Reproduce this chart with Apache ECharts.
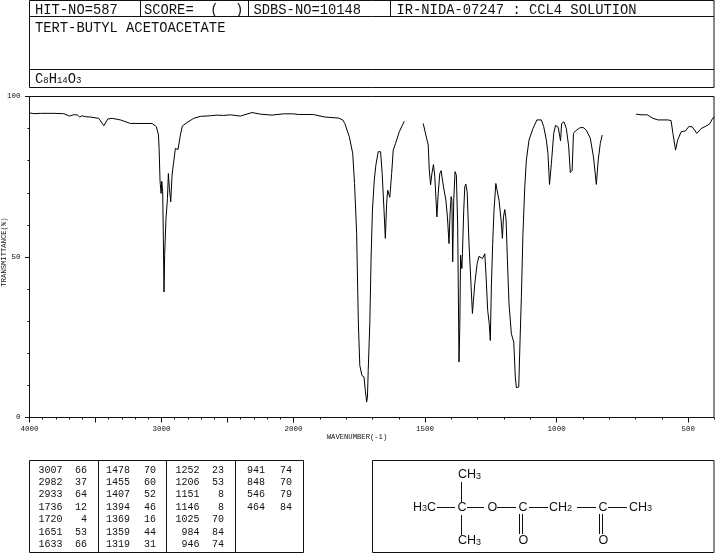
<!DOCTYPE html>
<html>
<head>
<meta charset="utf-8">
<style>html,body{margin:0;padding:0;background:#fff}#chart{width:715px;height:553px}</style>
<script src="https://cdn.jsdelivr.net/npm/echarts@6/dist/echarts.min.js"></script>
</head>
<body>
<div id="chart"></div>
<script>
// spectrum, cut in the places where the trace stops (CCl4 solvent windows)
var wnA = [4000,3992,3967,3917,3816,3740,3697,3669,3639,3619,3601,3576,3538,3475,3437,3407,3374,3311,3235,3071,3039,3023,3018,3011,3003,2998,2991,2986,2981,2976,2966,2955,2948,2940,2930,2920,2910,2895,2887,2875,2857,2842,2806,2756,2706,2630,2579,2529,2478,2403,2314,2251,2163,2075,2000];
var tA = [94.9,95,94.65,94.75,94.75,94.65,93.9,94.3,94.3,93.6,94,93.7,93.6,93.2,90.9,93,93.2,92.7,91.6,91.6,90.6,88,83.8,73.6,69.8,73.6,70.3,55.8,39.1,50.8,62,68.2,76,71.3,67.2,75.5,78.9,83.8,84.1,83.5,88,90.8,91.9,93.2,93.8,94,94.2,94.1,94.3,93.9,95,94.5,94.2,94.6,94.6];

var wnB = [2000,1982,1925,1881,1830,1813,1805,1788,1775,1768,1760,1754,1753,1748,1740,1732,1727,1722,1719,1716,1710,1705,1700,1693,1687,1678,1669,1663,1656,1651,1646,1642,1634,1627,1621,1612,1598,1579];
var tB = [94.6,94.4,94.4,93.6,93.3,92.7,91.6,87.5,82.3,72.9,57.3,31.3,28.2,16.2,13.1,12.6,8.4,4.8,6.4,14.7,29.2,50,64.6,74,78.6,82.8,82.8,76,64.6,55.8,66.7,70.8,68.6,76,83.3,85.4,89,92.3];

var wnC = [1507,1497,1488,1484,1479,1474,1468,1463,1459,1455,1450,1444,1439,1431,1421,1415,1409,1405,1401,1398,1395,1391,1386,1381,1376,1371,1368,1365,1360,1358,1353,1349,1345,1340,1333,1325,1320,1316,1311,1302,1295,1282,1273,1268,1262,1256,1252,1248,1243,1238,1231,1226,1219,1211,1206,1202,1197,1192,1187,1181,1172,1163,1157,1153,1144,1139,1134,1128,1121,1115,1105,1090,1075,1058,1049,1039,1033,1027,1020,1011,1004,994,985,981,972,963,954,948,941,936,928,913,900,887,872,860,849,842,834,827];
var tC = [91.6,88,84.9,77.1,72.5,76,78.8,75,68.8,62.5,69.8,76,76.9,72.4,67.7,62.5,54.2,63.6,68.8,67.7,48.5,67.7,76.6,75.5,59.4,17.3,28,50.6,46.4,51,64.6,71.9,72.7,70.3,54.2,40.7,32.4,36.5,41.7,48,50.2,49.5,51,43.8,33.4,29.2,24,40.7,54.2,64.6,72.9,73.1,67.7,61.5,55.8,62.5,64.8,61.5,49,35.5,26.1,23.5,12.6,9.3,9.5,24,37.6,57.3,71.9,80.2,86.4,90,92.7,92.7,90.6,86.4,82.3,72.6,79.1,88.5,91,90.4,86.2,91.6,92.1,90,84.3,76.3,77,88.5,89.3,90.2,90.4,89.5,87,81.2,72.6,80.2,85.4,88];

var wnD = [698,679,656,634,615,577,565,558,548,540,527,510,498,485,467,451,432,419,407,400];
var tD = [94.5,94.3,94.3,93.2,92.7,92.7,92.5,88.5,83.3,86.4,89,89.3,90.6,90.6,88.5,90,90.8,91.4,93.2,93.6];

// axis ticks
var xMajorHigh = [4000,3500,3000,2500,2000];
var xLabelHigh = [4000,3000,2000];
var xMajorLow = [2000,1500,1000,500];
var xLabelLow = [1500,1000,500];
var yMajor = [0,50,100];

// peak table, 7 rows per column
var peakWave = [3007,2982,2933,1736,1720,1651,1633,1478,1455,1407,1394,1369,1359,1319,1252,1206,1151,1146,1025,984,946,941,848,546,464];
var peakT = [66,37,64,12,4,53,66,70,60,52,46,16,44,31,23,53,8,8,70,84,74,74,70,79,84];

var MONO = '"Liberation Mono"';
var SANS = '"Liberation Sans"';
var INK = '#111';

var chart = echarts.init(document.getElementById('chart'));

function txt(x, y, s, size, align, family) {
  return {
    type: 'text', x: x, y: y, silent: true,
    style: { text: s, font: size + 'px ' + (family || MONO), fill: INK, textAlign: align || 'left', textVerticalAlign: 'middle' }
  };
}
function ln(x1, y1, x2, y2) {
  return { type: 'line', silent: true, shape: { x1: x1, y1: y1, x2: x2, y2: y2 }, style: { stroke: INK, lineWidth: 1 } };
}
function box(x, y, w, h) {
  return { type: 'rect', silent: true, shape: { x: x, y: y, width: w, height: h }, style: { fill: 'none', stroke: INK, lineWidth: 1 } };
}
// atom label with subscript digits, for the formula and the structure
function atom(x, y, s, size, subSize, family) {
  var rich = {
    n: { font: size + 'px ' + family, fill: INK },
    s: { font: subSize + 'px ' + family, fill: INK, padding: [3, 0, 0, 0] }
  };
  var t = s.replace(/([A-Z]+)/g, '{n|$1}').replace(/(\d+)/g, '{s|$1}');
  return { type: 'text', x: x, y: y, silent: true, style: { text: t, rich: rich, textAlign: 'left', textVerticalAlign: 'middle' } };
}

var graphics = [
  // header
  box(29.5, 0.5, 684.5, 87),
  ln(29.5, 16.5, 714, 16.5), ln(29.5, 69.5, 714, 69.5),
  ln(140.5, 0.5, 140.5, 16.5), ln(248.5, 0.5, 248.5, 16.5), ln(390.5, 0.5, 390.5, 16.5),
  txt(35, 10, 'HIT-NO=587', 13.8),
  txt(144, 10, 'SCORE=  (  )', 13.8),
  txt(253.5, 10, 'SDBS-NO=10148', 13.8),
  txt(396.5, 10, 'IR-NIDA-07247 : CCL4 SOLUTION', 13.8),
  txt(35, 28, 'TERT-BUTYL ACETOACETATE', 13.8),
  atom(35, 79, 'C8H14O3', 13.8, 9, MONO),
  // plot frame and axis names
  box(29.5, 96.5, 684.5, 321),
  txt(357, 437.5, 'WAVENUMBER(-1)', 7.2, 'center'),
  Object.assign(txt(4, 252, 'TRANSMITTANCE(%)', 7.2, 'center'), { rotation: Math.PI / 2 }),
  // peak table
  box(29.5, 460.5, 274, 92),
  ln(98.5, 460.5, 98.5, 552.5), ln(166.5, 460.5, 166.5, 552.5), ln(235.5, 460.5, 235.5, 552.5),
  // structure
  box(372.5, 460.5, 341.5, 92),
  atom(458, 475, 'CH3', 12.5, 9, SANS),
  atom(413, 507.5, 'H3C', 12.5, 9, SANS),
  atom(457.5, 507.5, 'C', 12.5, 9, SANS),
  atom(487.5, 507.5, 'O', 12.5, 9, SANS),
  atom(518.5, 507.5, 'C', 12.5, 9, SANS),
  atom(549, 507.5, 'CH2', 12.5, 9, SANS),
  atom(598.5, 507.5, 'C', 12.5, 9, SANS),
  atom(629, 507.5, 'CH3', 12.5, 9, SANS),
  atom(458, 541, 'CH3', 12.5, 9, SANS),
  atom(518.5, 541, 'O', 12.5, 9, SANS),
  atom(598.5, 541, 'O', 12.5, 9, SANS),
  ln(437, 507.5, 455, 507.5), ln(467, 507.5, 484, 507.5), ln(497, 507.5, 516, 507.5),
  ln(529, 507.5, 548, 507.5), ln(577, 507.5, 596, 507.5), ln(608, 507.5, 627, 507.5),
  ln(461.5, 482, 461.5, 502), ln(461.5, 515, 461.5, 535),
  ln(519.5, 514, 519.5, 534), ln(522.5, 514, 522.5, 534),
  ln(599.5, 514, 599.5, 534), ln(602.5, 514, 602.5, 534)
];

var colWave = [62.5, 130, 199.5, 265];
var colT = [87, 156, 224, 292];
peakWave.forEach(function (w, i) {
  var col = Math.floor(i / 7), row = i % 7, y = 470 + row * 12.4;
  graphics.push(txt(colWave[col], y, String(w), 10, 'right'));
  graphics.push(txt(colT[col], y, String(peakT[i]), 10, 'right'));
});

var tickLine = { color: INK, width: 1 };
var labelStyle = { color: INK, fontFamily: MONO, fontSize: 7.5, formatter: function (v) { return String(v); } };

function minorX(grid, min, max) {
  return {
    type: 'value', gridIndex: grid, position: 'bottom', inverse: true, min: min, max: max, interval: 100,
    splitLine: { show: false }, axisLine: { show: false }, axisLabel: { show: false },
    axisTick: { length: 2, lineStyle: tickLine }
  };
}
function majorX(grid, min, max, ticks, labels) {
  return {
    type: 'value', gridIndex: grid, position: 'bottom', inverse: true, min: min, max: max,
    splitLine: { show: false }, axisLine: { show: false },
    axisTick: { length: 5, lineStyle: tickLine, customValues: ticks },
    axisLabel: Object.assign({ margin: 8, customValues: labels }, labelStyle)
  };
}

chart.setOption({
  animation: false,
  backgroundColor: '#fff',
  graphic: graphics,
  grid: [
    { left: 29.5, top: 96.5, width: 264, height: 321 },
    { left: 293.5, top: 96.5, width: 421, height: 321 }
  ],
  xAxis: [
    minorX(0, 2000, 4000),
    majorX(0, 2000, 4000, xMajorHigh, xLabelHigh),
    minorX(1, 400, 2000),
    majorX(1, 400, 2000, xMajorLow, xLabelLow)
  ],
  yAxis: [
    {
      type: 'value', gridIndex: 0, position: 'left', min: 0, max: 100, interval: 10,
      splitLine: { show: false }, axisLine: { show: false }, axisLabel: { show: false },
      axisTick: { length: 2, lineStyle: tickLine }
    },
    {
      type: 'value', gridIndex: 0, position: 'left', min: 0, max: 100,
      splitLine: { show: false }, axisLine: { show: false },
      axisTick: { length: 4.5, lineStyle: tickLine, customValues: yMajor },
      axisLabel: Object.assign({ margin: 9, customValues: yMajor }, labelStyle)
    },
    { type: 'value', gridIndex: 1, min: 0, max: 100, show: false }
  ],
  series: [
    spectrum(wnA, tA, 0, 0),
    spectrum(wnB, tB, 2, 2),
    spectrum(wnC, tC, 2, 2),
    spectrum(wnD, tD, 2, 2)
  ]
});

function spectrum(wn, t, xi, yi) {
  return {
    type: 'line', xAxisIndex: xi, yAxisIndex: yi, showSymbol: false, silent: true,
    lineStyle: { color: '#000', width: 1 },
    data: wn.map(function (w, i) { return [w, t[i]]; })
  };
}
</script>
</body>
</html>
